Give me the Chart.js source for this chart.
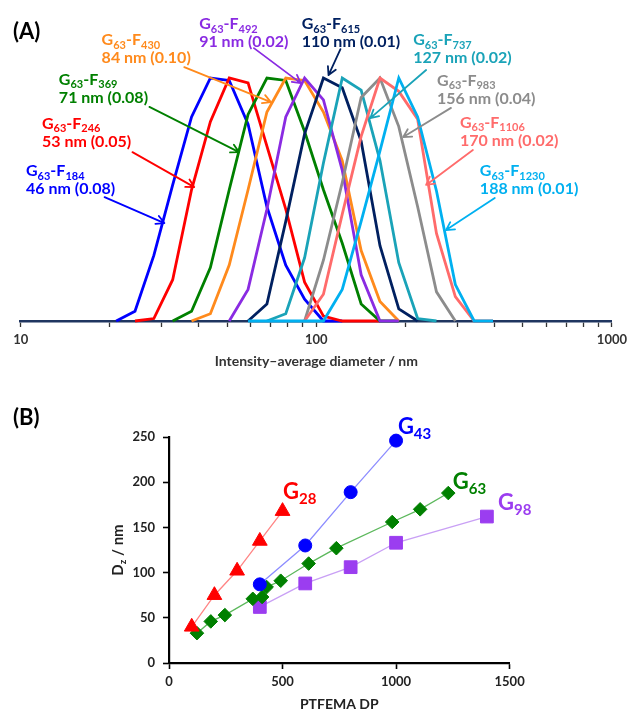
<!DOCTYPE html>
<html>
<head>
<meta charset="utf-8">
<script src="https://cdn.jsdelivr.net/npm/chart.js@4.4.1/dist/chart.umd.min.js"></script>
<style>
  html, body { margin: 0; padding: 0; background: #ffffff; }
  #wrap { position: relative; width: 632px; height: 713px; overflow: hidden; }
  canvas { position: absolute; left: 0; }
  #cA { top: 0; }
  #cB { top: 370px; }
</style>
</head>
<body>
<div id="wrap">
  <canvas id="cA" width="632" height="370"></canvas>
  <canvas id="cB" width="632" height="343"></canvas>
</div>
<script>
// ---------- Panel A: DLS intensity distributions (normalised to peak = 1) ----------
const sizeClassesNm = [21.04, 24.36, 28.21, 32.67, 37.84, 43.82, 50.75, 58.77, 68.06, 78.82, 91.28,
                       105.7, 122.4, 141.8, 164.2, 190.1, 220.2, 255.0, 295.3, 342.0, 396.1];
const _ = null;
const relIntF184  = [0, .04, .27, .56, .84, 1, .99, .81, .47, .23, .09, 0, 0, _, _, _, _, _, _, _, _];
const relIntF246  = [_, 0, .01, .17, .54, .82, 1, .98, .72, .46, .16, .02, 0, 0, 0, _, _, _, _, _, _];
const relIntF369  = [_, _, _, 0, .04, .22, .54, .85, 1, .99, .78, .54, .32, .07, 0, 0, _, _, _, _, _];
const relIntF430  = [_, _, _, _, 0, .03, .23, .54, .86, 1, .99, .86, .66, .29, .08, 0, _, _, _, _, _];
const relIntF492  = [_, _, _, _, _, _, 0, .13, .46, .84, 1, .91, .62, .19, 0, 0, _, _, _, _, _];
const relIntF615  = [_, _, _, _, _, _, _, 0, .07, .41, .77, 1, .96, .74, .31, .05, 0, _, _, _, _];
const relIntF737  = [_, _, _, _, _, _, _, _, 0, .03, .26, .65, 1, .95, .66, .24, .01, 0, _, _, _];
const relIntF983  = [_, _, _, _, _, _, _, _, _, _, 0, .25, .57, .92, 1, .80, .47, .12, 0, _, _];
const relIntF1106 = [_, _, _, _, _, _, _, _, _, _, 0, .11, .44, .76, 1, .945, .83, .36, .10, 0, 0];
const relIntF1230 = [_, _, _, _, _, _, _, 0, 0, 0, 0, 0, .13, .41, .70, 1, .84, .535, .15, 0, 0];

const fDP    = [184, 246, 369, 430, 492, 615, 737, 983, 1106, 1230];
const zAvgNm = [46, 53, 71, 84, 91, 110, 127, 156, 170, 188];
const pdi    = ['0.08', '0.05', '0.08', '0.10', '0.02', '0.01', '0.02', '0.04', '0.02', '0.01'];

const xTickValues = [10, 20, 30, 40, 50, 60, 70, 80, 90, 100, 200, 300, 400, 500, 600, 700, 800, 900, 1000];
const xTickLabels = [10, 100, 1000];

// label anchors and arrows, in data units (nm, relative intensity)
const labelNm   = [10.42, 11.80, 13.46, 18.78, 40.15, 89.2, 212.7, 256.1, 306.1, 357.5];
const labelRel  = [0.621, 0.815, 0.996, 1.160, 1.226, 1.226, 1.160, 0.992, 0.819, 0.621];
const arrowFromNm  = [19.22, 23.88, 27.25, 35.75, 61.51, 120.7, 235.2, 285.5, 338.6, 401.5];
const arrowFromRel = [0.510, 0.695, 0.881, 1.045, 1.123, 1.119, 1.033, 0.877, 0.704, 0.506];
const arrowToNm    = [30.62, 38.64, 54.76, 70.19, 88.55, 110.0, 152.3, 196.8, 235.2, 274.7];
const arrowToRel   = [0.403, 0.551, 0.695, 0.901, 0.979, 1.012, 0.835, 0.757, 0.560, 0.374];

const seriesColours = ['#0000FF', '#FF0000', '#008000', '#FF8A1C', '#8A2BE2',
                       '#002060', '#1AA3B8', '#8C8C8C', '#FF6B6B', '#00B0F0'];

const relIntensity = [relIntF184, relIntF246, relIntF369, relIntF430, relIntF492,
                      relIntF615, relIntF737, relIntF983, relIntF1106, relIntF1230];

// ---------- Panel B: Dz vs PTFEMA DP ----------
const dpG28 = [100, 200, 300, 400, 500];
const dzG28 = [40, 75, 102, 135, 168];
const dpG43 = [400, 600, 800, 1000];
const dzG43 = [87, 130, 189, 246];
const dpG63 = [123, 184, 246, 369, 410, 430, 492, 615, 737, 983, 1106, 1230];
const dzG63 = [33, 46, 53, 71, 73, 84, 91, 110, 127, 156, 170, 188];
const dpG98 = [400, 600, 800, 1000, 1400];
const dzG98 = [62, 88, 106, 133, 162];

const yTicksB = [0, 50, 100, 150, 200, 250];
const xTicksB = [0, 500, 1000, 1500];

// G-series label anchors (DP, Dz)
const gLabels   = ['28', '43', '63', '98'];
const gLabelDP  = [502, 1008, 1250, 1449];
const gLabelDz  = [189.5, 261.4, 200.6, 177];
const gColours  = ['#FF0000', '#0000FF', '#008000', '#9B3DF0'];

Chart.defaults.font.family = 'Lato, "DejaVu Sans", sans-serif';

function drawRich(ctx, parts, x, y, mainSize, subSize, subDrop) {
  let cx = x;
  for (const p of parts) {
    ctx.font = `bold ${p.sub ? subSize : mainSize}px Lato`;
    ctx.fillText(p.t, cx, p.sub ? y + subDrop : y);
    cx += ctx.measureText(p.t).width;
  }
  return cx;
}

function arrow(ctx, x1, y1, x2, y2, colour) {
  const ang = Math.atan2(y2 - y1, x2 - x1);
  const head = 9, spread = 0.5;
  ctx.strokeStyle = colour;
  ctx.lineWidth = 1.8;
  ctx.lineCap = 'round';
  ctx.lineJoin = 'round';
  ctx.beginPath();
  ctx.moveTo(x1, y1);
  ctx.lineTo(x2, y2);
  ctx.moveTo(x2 - head * Math.cos(ang - spread), y2 - head * Math.sin(ang - spread));
  ctx.lineTo(x2, y2);
  ctx.lineTo(x2 - head * Math.cos(ang + spread), y2 - head * Math.sin(ang + spread));
  ctx.stroke();
}

const annotateA = {
  id: 'annotateA',
  afterDatasetsDraw(chart) {
    const { ctx, scales: { x, y } } = chart;
    ctx.save();
    for (let i = 0; i < fDP.length; i++) {
      arrow(ctx,
        x.getPixelForValue(arrowFromNm[i]), y.getPixelForValue(arrowFromRel[i]),
        x.getPixelForValue(arrowToNm[i]), y.getPixelForValue(arrowToRel[i]),
        seriesColours[i]);
    }
    ctx.textBaseline = 'alphabetic';
    for (let i = 0; i < fDP.length; i++) {
      const lx = x.getPixelForValue(labelNm[i]);
      const ly = y.getPixelForValue(labelRel[i]);
      ctx.fillStyle = seriesColours[i];
      drawRich(ctx, [{ t: 'G' }, { t: '63', sub: true }, { t: '-F' }, { t: String(fDP[i]), sub: true }],
        lx, ly + 6, 16, 11, 3.5);
      ctx.font = 'bold 16px Lato';
      ctx.fillText(`${zAvgNm[i]} nm (${pdi[i]})`, lx, ly + 24);
    }
    ctx.fillStyle = '#000';
    ctx.font = 'bold 22px Lato';
    ctx.fillText('(A)', 13, 39);
    ctx.restore();
  }
};

new Chart(document.getElementById('cA'), {
  type: 'line',
  data: {
    datasets: relIntensity.map((vals, i) => ({
      label: `G63-F${fDP[i]}`,
      data: sizeClassesNm.map((d, k) => ({ x: d, y: vals[k] })).filter(p => p.y !== null),
      borderColor: seriesColours[i],
      backgroundColor: seriesColours[i],
      borderWidth: 2.8,
      pointRadius: 0,
      tension: 0,
      fill: false,
      clip: false,
      order: relIntensity.length - i
    }))
  },
  options: {
    responsive: false,
    animation: false,
    devicePixelRatio: 1,
    events: [],
    layout: { padding: { left: 20.7, right: 17.3, top: 5.1, bottom: 0 } },
    plugins: { legend: { display: false }, tooltip: { enabled: false } },
    scales: {
      x: {
        type: 'logarithmic',
        min: 10,
        max: 1000,
        afterBuildTicks: s => { s.ticks = xTickValues.map(v => ({ value: v })); },
        afterFit: s => { s.height = 49; },
        ticks: {
          autoSkip: false,
          maxRotation: 0,
          padding: 5,
          color: '#333333',
          font: { size: 13, weight: 'bold' },
          callback: v => (xTickLabels.includes(v) ? String(v) : '')
        },
        grid: { drawOnChartArea: false, drawTicks: true, tickLength: 6, tickColor: '#333333', tickWidth: 1.3 },
        border: { display: true, color: '#1F3560', width: 2.6 },
        title: {
          display: true,
          text: 'Intensity–average diameter / nm',
          color: '#333333',
          font: { size: 14, weight: 'bold' },
          padding: { top: 0, bottom: 0 }
        }
      },
      y: { display: false, min: 0, max: 1.3 }
    }
  },
  plugins: [annotateA]
});

// ---------- Panel B chart ----------
const annotateB = {
  id: 'annotateB',
  afterDatasetsDraw(chart) {
    const { ctx, scales: { x, y } } = chart;
    ctx.save();
    ctx.textBaseline = 'alphabetic';
    for (let i = 0; i < gLabels.length; i++) {
      ctx.fillStyle = gColours[i];
      drawRich(ctx, [{ t: 'G' }, { t: gLabels[i], sub: true }],
        x.getPixelForValue(gLabelDP[i]), y.getPixelForValue(gLabelDz[i]) + 7.5, 22, 15, 5);
    }
    // rotated y-axis title with subscript
    ctx.save();
    ctx.translate(123, (y.top + y.bottom) / 2);
    ctx.rotate(-Math.PI / 2);
    ctx.fillStyle = '#222222';
    const parts = [{ t: 'D' }, { t: 'z', sub: true }, { t: ' / nm' }];
    let w = 0;
    for (const p of parts) { ctx.font = `bold ${p.sub ? 10 : 15}px Lato`; w += ctx.measureText(p.t).width; }
    drawRich(ctx, parts, -w / 2, 0, 15, 10, 3);
    ctx.restore();
    ctx.fillStyle = '#000';
    ctx.font = 'bold 22px Lato';
    ctx.fillText('(B)', 13, 55);
    ctx.restore();
  }
};

function seriesB(dp, dz, colour, lineColour, style, radius) {
  return {
    data: dp.map((d, k) => ({ x: d, y: dz[k] })),
    showLine: true,
    borderColor: lineColour,
    borderWidth: 1.3,
    pointStyle: style,
    pointRadius: radius,
    pointBackgroundColor: colour,
    pointBorderColor: colour,
    pointBorderWidth: 1,
    clip: false
  };
}

new Chart(document.getElementById('cB'), {
  type: 'scatter',
  data: {
    datasets: [
      seriesB(dpG28, dzG28, '#FF0000', '#FF8585', 'triangle', 8.5),
      seriesB(dpG43, dzG43, '#0000FF', '#8C8CFF', 'circle', 6.5),
      seriesB(dpG63, dzG63, '#008000', '#5CB85C', 'rectRot', 6.8),
      seriesB(dpG98, dzG98, '#9B3DF0', '#C9A0F5', 'rect', 9)
    ]
  },
  options: {
    responsive: false,
    animation: false,
    devicePixelRatio: 1,
    events: [],
    layout: { padding: { left: 0, right: 122.4, top: 67, bottom: 0 } },
    plugins: { legend: { display: false }, tooltip: { enabled: false } },
    scales: {
      x: {
        type: 'linear',
        min: 0,
        max: 1500,
        afterBuildTicks: s => { s.ticks = xTicksB.map(v => ({ value: v })); },
        afterFit: s => { s.height = 50; },
        ticks: { padding: 5, color: '#222222', font: { size: 13, weight: 'bold' }, callback: v => String(v) },
        grid: { drawOnChartArea: false, tickLength: 6, tickColor: '#000', tickWidth: 1.6 },
        border: { color: '#000', width: 2.2 },
        title: {
          display: true,
          text: 'PTFEMA DP',
          color: '#222222',
          font: { size: 14, weight: 'bold' },
          padding: { top: 0, bottom: 0 }
        }
      },
      y: {
        min: 0,
        max: 250,
        afterBuildTicks: s => { s.ticks = yTicksB.map(v => ({ value: v })); },
        afterFit: s => { s.width = 169; },
        ticks: { padding: 8, color: '#222222', font: { size: 13, weight: 'bold' }, callback: v => String(v) },
        grid: { drawOnChartArea: false, tickLength: 6, tickColor: '#000', tickWidth: 1.6 },
        border: { color: '#000', width: 2.2 }
      }
    }
  },
  plugins: [annotateB]
});
</script>
</body>
</html>
